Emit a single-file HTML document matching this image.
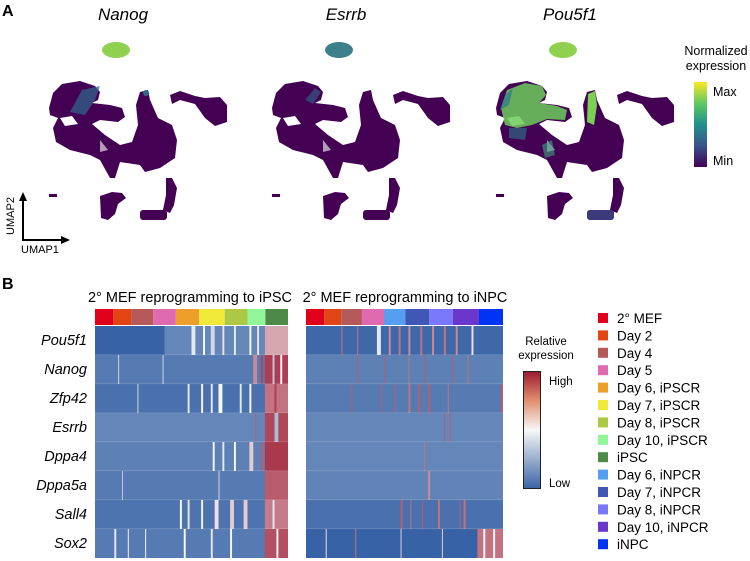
<!DOCTYPE html>
<html><head><meta charset="utf-8"><style>
body{margin:0;background:#fff;}
svg{display:block;font-family:"Liberation Sans",Arial,sans-serif;}
</style></head><body>
<svg id="fig" width="750" height="561" viewBox="0 0 750 561">
<defs>
<linearGradient id="viridis" x1="0" y1="1" x2="0" y2="0">
<stop offset="0" stop-color="#440154"/><stop offset="0.25" stop-color="#3b528b"/><stop offset="0.5" stop-color="#21918c"/><stop offset="0.75" stop-color="#5ec962"/><stop offset="1" stop-color="#fde725"/>
</linearGradient>
<linearGradient id="rdbu" x1="0" y1="1" x2="0" y2="0">
<stop offset="0" stop-color="#3b64a5"/><stop offset="0.5" stop-color="#f7f7f7"/><stop offset="0.75" stop-color="#e0906e"/><stop offset="1" stop-color="#9e1a33"/>
</linearGradient>
<g id="umapbase">
<path d="M49,108 L53,93 L62,84 L80,81 L95,86 L100,92 L98,100 L92,103 L110,105 L122,108 L125,117 L118,122 L100,120 L92,124 L105,135 L120,145 L132,142 L138,125 L136,105 L140,92 L148,90 L150,100 L158,118 L172,125 L177,140 L175,158 L160,168 L145,172 L140,165 L120,162 L115,178 L110,178 L100,160 L90,155 L70,150 L56,142 L53,128 L58,118 L50,115 Z" fill="#440154"/>
<path d="M170,95 L180,91 L195,96 L205,98 L220,97 L227,105 L227,122 L215,126 L205,118 L195,104 L180,100 L172,104 Z" fill="#440154"/>
<path d="M100,196 L112,192 L122,193 L126,198 L118,204 L115,214 L108,220 L101,218 Z" fill="#440154"/>
<rect x="140" y="210" width="27" height="10" rx="3" fill="#440154"/>
<path d="M166,178 L172,178 L177,188 L174,205 L170,213 L163,210 L166,195 Z" fill="#440154"/>
<rect x="49" y="194" width="8" height="3" fill="#440154"/>
<path d="M60,118 L72,116 L78,124 L65,126 Z" fill="#fff"/>
<path d="M100,140 L108,150 L100,152 Z" fill="#fff" opacity="0.6"/>
</g>
</defs>

<text x="2" y="16" font-size="16" font-weight="bold">A</text>
<text x="2" y="289" font-size="16" font-weight="bold">B</text>

<g>
<text x="123" y="20" font-size="17" font-style="italic" text-anchor="middle">Nanog</text>
<use href="#umapbase"/>
<ellipse cx="116" cy="50" rx="14" ry="8" fill="#8fd14f"/>
<path d="M70,112 L82,90 L100,86 L95,100 L85,115 Z" fill="#31688e" opacity="0.7"/>
<circle cx="146" cy="93" r="3" fill="#31688e"/>
</g>
<g transform="translate(223,0)">
<text x="123" y="20" font-size="17" font-style="italic" text-anchor="middle">Esrrb</text>
<use href="#umapbase"/>
<ellipse cx="116" cy="50" rx="14" ry="8" fill="#3e7f8c"/>
<path d="M82,100 L92,88 L98,92 L90,104 Z" fill="#31688e" opacity="0.6"/>
</g>
<g transform="translate(447,0)">
<text x="123" y="20" font-size="17" font-style="italic" text-anchor="middle">Pou5f1</text>
<use href="#umapbase"/>
<ellipse cx="116" cy="50" rx="14" ry="8" fill="#8fd14f"/>
<path d="M54,108 L60,90 L78,83 L95,86 L99,95 L92,103 L110,106 L120,110 L118,120 L100,119 L85,125 L70,128 L58,125 Z" fill="#6ccd5a" opacity="0.85"/>
<path d="M53,110 L58,95 L66,88 L62,105 Z" fill="#2a788e" opacity="0.7"/>
<path d="M141,94 L148,91 L150,105 L147,125 L140,122 Z" fill="#7ad151"/>
<path d="M62,128 L80,128 L78,140 L62,138 Z" fill="#2a788e" opacity="0.6"/>
<path d="M95,145 L105,140 L108,155 L98,158 Z" fill="#3aa17e" opacity="0.6"/>
<rect x="140" y="210" width="27" height="10" rx="3" fill="#3b528b" opacity="0.7"/>
</g>

<g>
<text x="716" y="55" font-size="12.5" text-anchor="middle">Normalized</text>
<text x="716" y="70" font-size="12.5" text-anchor="middle">expression</text>
<rect x="694" y="82" width="13" height="85" fill="url(#viridis)"/>
<text x="713" y="96" font-size="12.5">Max</text>
<text x="713" y="165" font-size="12.5">Min</text>
</g>

<g>
<line x1="23" y1="240" x2="23" y2="198" stroke="#000" stroke-width="2"/>
<polygon points="23,192 19,201 27,201" fill="#000"/>
<line x1="22" y1="240" x2="64" y2="240" stroke="#000" stroke-width="2"/>
<polygon points="70,240 61,236 61,244" fill="#000"/>
<text x="14" y="216" font-size="11" text-anchor="middle" transform="rotate(-90 14 216)">UMAP2</text>
<text x="21" y="253" font-size="11">UMAP1</text>
</g>

<text x="190" y="302" font-size="14.5" text-anchor="middle">2° MEF reprogramming to iPSC</text>
<text x="405" y="302" font-size="14.5" text-anchor="middle">2° MEF reprogramming to iNPC</text>
<g id="hm"></g>

<g>
<text x="546" y="345" font-size="11.5" text-anchor="middle">Relative</text>
<text x="546" y="359" font-size="11.5" text-anchor="middle">expression</text>
<rect x="523.5" y="371.5" width="17" height="117" fill="url(#rdbu)" stroke="#222" stroke-width="1"/>
<text x="549" y="385" font-size="11.5">High</text>
<text x="549" y="487" font-size="11.5">Low</text>
</g>
<g id="leg"></g>
</svg>
<script>
const genes=["Pou5f1","Nanog","Zfp42","Esrrb","Dppa4","Dppa5a","Sall4","Sox2"];
const groupNames=["2° MEF","Day 2","Day 4","Day 5","Day 6, iPSCR","Day 7, iPSCR","Day 8, iPSCR","Day 10, iPSCR","iPSC","Day 6, iNPCR","Day 7, iNPCR","Day 8, iNPCR","Day 10, iNPCR","iNPC"];
const groupColors=["#e0001b","#e04513","#b55a5a","#e06ab0","#ee9f2a","#f0e93a","#adc844","#91f59a","#4e8a47","#559ef0","#4157b5","#7a78fa","#6b36cc","#0034f5"];
const ipscGroups=[0,1,2,3,4,5,6,7,8];
const ipscBreaks=[0,0.095,0.19,0.302,0.419,0.54,0.672,0.79,0.883,1];
const inpcGroupsFull=[0,1,2,3,9,10,11,12,13];
const inpcBreaks=[0,0.093,0.179,0.284,0.396,0.504,0.626,0.746,0.878,1];
const ipscBase=[0.0,0.08,0.05,0.12,0.1,0.08,0.06,0.08];
const inpcBase=[0.02,0.1,0.08,0.12,0.12,0.11,0.05,0.0];
const ipscStripes=[
[0,0.36,0.88,0.12],[0,0.5,0.52,0.45],[0,0.56,0.57,0.5],[0,0.6,0.62,0.4],[0,0.66,0.67,0.55],[0,0.72,0.73,0.45],[0,0.8,0.81,0.5],[0,0.84,0.85,0.55],[0,0.88,1,0.68],
[1,0.12,0.125,0.4],[1,0.35,0.355,0.4],[1,0.82,0.84,0.75],[1,0.86,0.87,0.9],[1,0.88,1,0.92],[1,0.92,0.93,0.35],[1,0.96,0.97,0.5],
[2,0.22,0.225,0.4],[2,0.48,0.49,0.45],[2,0.55,0.56,0.5],[2,0.6,0.61,0.45],[2,0.64,0.66,0.5],[2,0.75,0.76,0.45],[2,0.8,0.81,0.5],[2,0.88,1,0.8],[2,0.93,0.94,0.92],
[3,0.83,0.835,0.85],[3,0.88,1,0.9],[3,0.93,0.95,0.3],
[4,0.61,0.62,0.5],[4,0.66,0.67,0.45],[4,0.72,0.73,0.5],[4,0.8,0.82,0.6],[4,0.86,0.87,0.85],[4,0.88,1,0.93],
[5,0.14,0.145,0.35],[5,0.64,0.645,0.4],[5,0.88,1,0.85],
[6,0.44,0.45,0.5],[6,0.48,0.49,0.55],[6,0.55,0.56,0.5],[6,0.62,0.64,0.55],[6,0.7,0.72,0.6],[6,0.77,0.79,0.6],[6,0.88,1,0.78],[6,0.92,0.93,0.45],
[7,0.1,0.11,0.45],[7,0.17,0.175,0.5],[7,0.26,0.265,0.5],[7,0.46,0.47,0.5],[7,0.6,0.61,0.45],[7,0.7,0.71,0.5],[7,0.88,1,0.88],[7,0.94,0.95,0.5]
];
const inpcStripes=[
[0,0.18,0.185,0.8],[0,0.26,0.265,0.8],[0,0.36,0.38,0.45],[0,0.42,0.43,0.75],[0,0.47,0.48,0.8],[0,0.52,0.53,0.75],[0,0.58,0.59,0.8],[0,0.64,0.65,0.75],[0,0.7,0.71,0.8],[0,0.76,0.77,0.75],[0,0.84,0.85,0.55],
[1,0.26,0.265,0.85],[1,0.4,0.405,0.85],[1,0.52,0.525,0.8],[1,0.6,0.605,0.85],[1,0.74,0.745,0.85],[1,0.82,0.825,0.8],
[2,0.23,0.235,0.85],[2,0.38,0.385,0.85],[2,0.45,0.455,0.85],[2,0.52,0.53,0.8],[2,0.57,0.58,0.85],[2,0.62,0.63,0.85],[2,0.72,0.725,0.8],[2,0.99,1,0.85],
[3,0.7,0.705,0.85],[3,0.73,0.735,0.85],
[4,0.6,0.605,0.8],
[5,0.62,0.63,0.75],
[6,0.48,0.49,0.85],[6,0.53,0.535,0.8],[6,0.59,0.595,0.85],[6,0.67,0.68,0.8],[6,0.78,0.785,0.85],[6,0.8,0.81,0.8],
[7,0.1,0.105,0.55],[7,0.25,0.255,0.8],[7,0.48,0.485,0.6],[7,0.69,0.695,0.6],[7,0.87,1,0.8],[7,0.9,0.91,0.5],[7,0.95,0.96,0.5]
];
const NS="http://www.w3.org/2000/svg";
function col(v){
  const lo=[55,98,165],mid=[247,247,247],hi=[158,26,51];
  let a,b,t;
  if(v<0.5){a=lo;b=mid;t=v/0.5;}else{a=mid;b=hi;t=(v-0.5)/0.5;}
  return "rgb("+a.map((x,i)=>Math.round(x+(b[i]-x)*t)).join(",")+")";
}
function rect(p,x,y,w,h,f){const r=document.createElementNS(NS,"rect");r.setAttribute("x",x);r.setAttribute("y",y);r.setAttribute("width",w);r.setAttribute("height",h);r.setAttribute("fill",f);p.appendChild(r);return r;}
const hm=document.getElementById("hm");
const rowTop=326,rowH=29,barTop=309,barH=16;
function drawHeat(x0,x1,groups,breaks,base,stripes,name){
  const g=document.createElementNS(NS,"g");
  
  
  hm.appendChild(g);
  const sx=f=>x0+f*(x1-x0);
  groups.forEach((gi,i)=>{
    const r=rect(g,sx(breaks[i]),barTop,sx(breaks[i+1])-sx(breaks[i]),barH,groupColors[gi]);
    
    
  });
  base.forEach((v,i)=>{
    const r=rect(g,x0,rowTop+i*rowH,x1-x0,rowH,col(v));
    
    
  });
  stripes.forEach(s=>{
    const r=rect(g,sx(s[1]),rowTop+s[0]*rowH,Math.max(0.8,sx(s[2])-sx(s[1])),rowH,col(s[3]));
    
    
  });
  for(let i=1;i<base.length;i++){const r=rect(g,x0,rowTop+i*rowH-0.5,x1-x0,0.6,"#ffffff");r.setAttribute("opacity","0.25");}
}
drawHeat(95,288,ipscGroups,ipscBreaks,ipscBase,ipscStripes,"ipsc-heatmap");
drawHeat(306,503,inpcGroupsFull,inpcBreaks,inpcBase,inpcStripes,"inpc-heatmap");
genes.forEach((gn,i)=>{
  const t=document.createElementNS(NS,"text");
  t.setAttribute("x",87);t.setAttribute("y",rowTop+i*rowH+19);
  t.setAttribute("font-size","14.5");t.setAttribute("font-style","italic");t.setAttribute("text-anchor","end");
  t.textContent=gn;
  
  
  hm.appendChild(t);
});
const leg=document.getElementById("leg");
groupNames.forEach((n,i)=>{
  const y=313+i*17.4;
  const g=document.createElementNS(NS,"g");
  
  
  rect(g,598,y,10,10,groupColors[i]);
  const t=document.createElementNS(NS,"text");
  t.setAttribute("x",617);t.setAttribute("y",y+10);t.setAttribute("font-size","13.5");
  t.textContent=n;g.appendChild(t);leg.appendChild(g);
});
</script>
</body></html>
